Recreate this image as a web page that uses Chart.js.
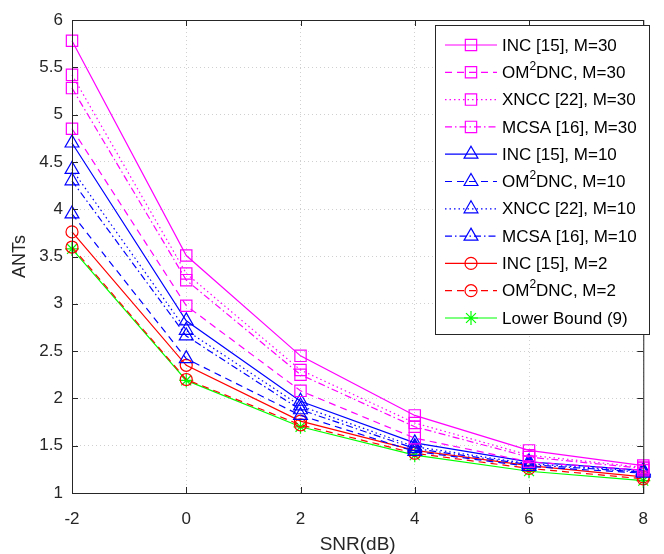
<!DOCTYPE html>
<html>
<head>
<meta charset="utf-8">
<script src="https://cdn.jsdelivr.net/npm/chart.js@4/dist/chart.umd.min.js"></script>
<style>
    html, body { margin: 0; padding: 0; background: #fff; }
</style>
</head>
<body>
<canvas id="graficoANT" width="664" height="554"></canvas>
<script>
// ==========================
// DADOS
// ==========================
const snr = [-2, 0, 2, 4, 6, 8];

const inc30  = [5.78, 3.51, 2.45, 1.82, 1.45, 1.29];
const om30   = [4.85, 2.98, 2.08, 1.58, 1.33, 1.24];
const xncc30 = [5.42, 3.32, 2.30, 1.74, 1.40, 1.27];
const mcsa30 = [5.28, 3.25, 2.25, 1.70, 1.38, 1.26];

const inc10  = [4.70, 2.82, 1.97, 1.53, 1.33, 1.24];
const om10   = [3.95, 2.42, 1.82, 1.44, 1.28, 1.21];
const xncc10 = [4.42, 2.72, 1.92, 1.49, 1.31, 1.23];
const mcsa10 = [4.30, 2.66, 1.88, 1.47, 1.30, 1.22];

const inc2   = [3.76, 2.35, 1.76, 1.45, 1.29, 1.17];
const om2    = [3.60, 2.20, 1.72, 1.42, 1.26, 1.15];
const lowerBound = [3.58, 2.19, 1.70, 1.40, 1.23, 1.13];

const xTicks = [-2, 0, 2, 4, 6, 8];
const yTicks = [1, 1.5, 2, 2.5, 3, 3.5, 4, 4.5, 5, 5.5, 6];

const FONTE = "'Liberation Sans', Arial, Helvetica, sans-serif";
const TRACO = { solid: [], dashed: [7, 5], dotted: [1.5, 3], dashdot: [7, 3, 1.5, 3] };

function serie(label, valores, cor, estilo, marcador, raio) {
    return {
        label: label,
        data: valores.map((v, i) => ({ x: snr[i], y: v })),
        borderColor: cor,
        backgroundColor: "transparent",
        borderWidth: 1.2,
        borderDash: TRACO[estilo],
        pointStyle: marcador,
        pointRadius: raio,
        pointBorderWidth: 1.2,
        pointBorderColor: cor,
        pointBackgroundColor: "transparent",
        tension: 0,
        clip: false
    };
}

const datasets = [
    serie("INC [15], M=30",  inc30,  "#ff00ff", "solid",   "rect", 8),
    serie("OM²DNC, M=30",    om30,   "#ff00ff", "dashed",  "rect", 8),
    serie("XNCC [22], M=30", xncc30, "#ff00ff", "dotted",  "rect", 8),
    serie("MCSA [16], M=30", mcsa30, "#ff00ff", "dashdot", "rect", 8),
    serie("INC [15], M=10",  inc10,  "#0000ff", "solid",   "triangle", 8),
    serie("OM²DNC, M=10",    om10,   "#0000ff", "dashed",  "triangle", 8),
    serie("XNCC [22], M=10", xncc10, "#0000ff", "dotted",  "triangle", 8),
    serie("MCSA [16], M=10", mcsa10, "#0000ff", "dashdot", "triangle", 8),
    serie("INC [15], M=2",   inc2,   "#ff0000", "solid",   "circle", 6),
    serie("OM²DNC, M=2",     om2,    "#ff0000", "dashed",  "circle", 6),
    serie("Lower Bound (9)", lowerBound, "#00ff00", "solid", "star", 7)
];

// ==========================
// CAIXA DOS EIXOS + LEGENDA
// ==========================
const caixaEixos = {
    id: "caixaEixos",
    afterDraw(chart) {
        const ctx = chart.ctx;
        const a = chart.chartArea;
        const sx = chart.scales.x, sy = chart.scales.y;
        ctx.save();
        ctx.strokeStyle = "#262626";
        ctx.lineWidth = 1;
        ctx.setLineDash([]);
        ctx.strokeRect(a.left + 0.5, a.top + 0.5, a.right - a.left, a.bottom - a.top);
        ctx.beginPath();
        xTicks.forEach(t => {
            const px = Math.round(sx.getPixelForValue(t)) + 0.5;
            ctx.moveTo(px, a.bottom); ctx.lineTo(px, a.bottom - 6);
            ctx.moveTo(px, a.top); ctx.lineTo(px, a.top + 6);
        });
        yTicks.forEach(t => {
            const py = Math.round(sy.getPixelForValue(t)) + 0.5;
            ctx.moveTo(a.left, py); ctx.lineTo(a.left + 6, py);
            ctx.moveTo(a.right, py); ctx.lineTo(a.right - 6, py);
        });
        ctx.stroke();

        // legenda
        const lx = 435, ly = 25, lw = 214, passo = 27.3;
        const lh = 309;
        ctx.fillStyle = "#fff";
        ctx.fillRect(lx, ly, lw, lh);
        ctx.strokeStyle = "#262626";
        ctx.strokeRect(lx + 0.5, ly + 0.5, lw, lh);

        chart.data.datasets.forEach((ds, i) => {
            const y = ly + 20 + i * passo;
            ctx.strokeStyle = ds.borderColor;
            ctx.lineWidth = 1.2;
            ctx.setLineDash(ds.borderDash);
            ctx.beginPath();
            ctx.moveTo(445, y); ctx.lineTo(497, y);
            ctx.stroke();
            ctx.setLineDash([]);
            ctx.fillStyle = "rgba(0,0,0,0)";
            Chart.helpers.drawPoint(ctx, {
                pointStyle: ds.pointStyle, radius: ds.pointRadius,
                borderWidth: 1.2, rotation: 0
            }, 471, y);

            ctx.fillStyle = "#000";
            ctx.textBaseline = "middle";
            ctx.textAlign = "left";
            let x = 502;
            const partes = ds.label.split("²");
            ctx.font = "17px " + FONTE;
            ctx.fillText(partes[0], x, y + 1);
            if (partes.length > 1) {
                x += ctx.measureText(partes[0]).width;
                ctx.font = "12px " + FONTE;
                ctx.fillText("2", x, y - 6);
                x += ctx.measureText("2").width;
                ctx.font = "17px " + FONTE;
                ctx.fillText(partes[1], x, y + 1);
            }
        });
        ctx.restore();
    }
};

// ==========================
// GRÁFICO
// ==========================
const ctx = document.getElementById("graficoANT").getContext("2d");

new Chart(ctx, {
    type: "line",
    data: { datasets: datasets },
    options: {
        responsive: false,
        animation: false,
        layout: { padding: { left: 0, right: 6, top: 20, bottom: 0 } },
        plugins: { legend: { display: false }, tooltip: { enabled: false } },
        scales: {
            x: {
                type: "linear",
                min: -2, max: 8,
                afterFit: s => { s.height = 61; },
                afterBuildTicks: s => { s.ticks = xTicks.map(v => ({ value: v })); },
                grid: { color: "#d0d0d0", drawTicks: false, lineWidth: 1 },
                border: { display: false, dash: [1, 3] },
                ticks: { padding: 16, color: "#262626", font: { family: FONTE, size: 17 } },
                title: { display: true, text: "SNR(dB)", color: "#262626",
                         padding: { top: 0, bottom: -2 }, font: { family: FONTE, size: 19 } }
            },
            y: {
                min: 1, max: 6,
                afterFit: s => { s.width = 72; },
                afterBuildTicks: s => { s.ticks = yTicks.map(v => ({ value: v })); },
                grid: { color: "#d0d0d0", drawTicks: false, lineWidth: 1 },
                border: { display: false, dash: [1, 3] },
                ticks: { padding: 9, color: "#262626", font: { family: FONTE, size: 17 },
                         callback: v => String(v) },
                title: { display: true, text: "ANTs", color: "#262626",
                         padding: { top: 9, bottom: 0 }, font: { family: FONTE, size: 18 } }
            }
        }
    },
    plugins: [caixaEixos]
});
</script>
</body>
</html>
